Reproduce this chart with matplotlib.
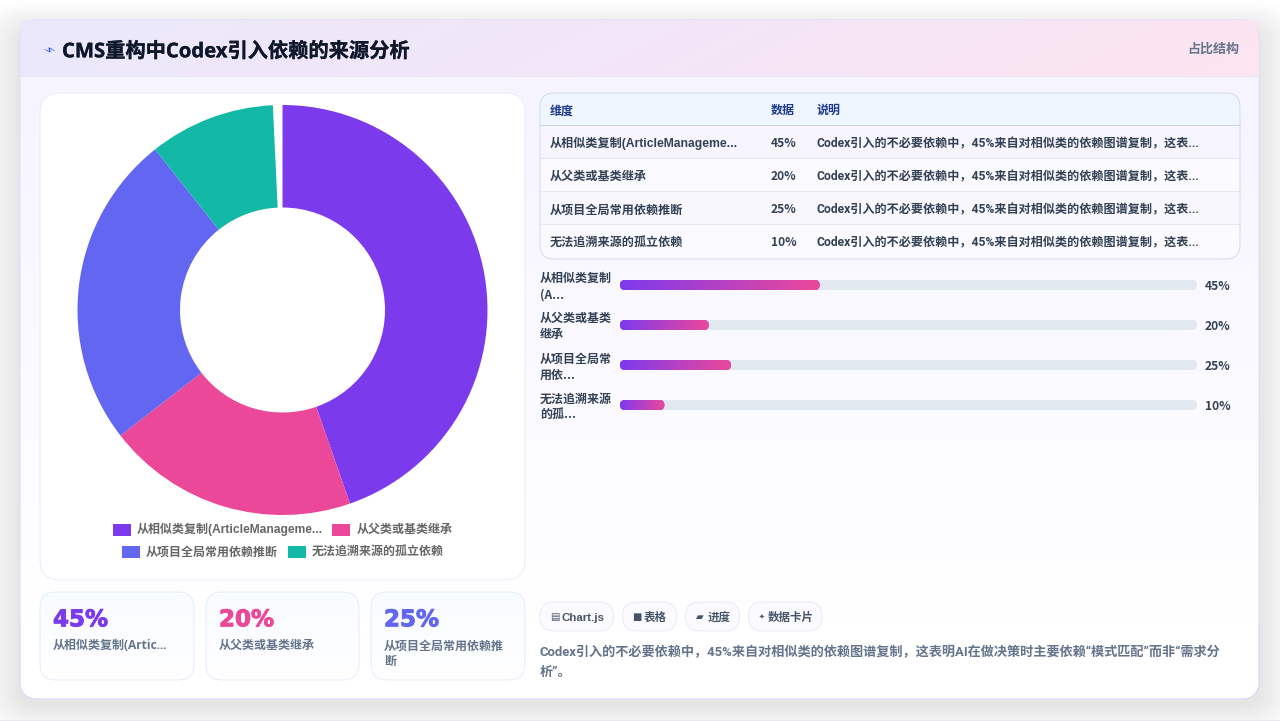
import matplotlib
matplotlib.use('Agg')
import matplotlib.patheffects as pe
import matplotlib.pyplot as plt
import numpy as np
from matplotlib.colors import LinearSegmentedColormap
from matplotlib.patches import FancyBboxPatch, Rectangle

CJK = ['Roboto', 'Noto Sans CJK SC', 'DejaVu Sans']
PLAIN_CJK = ['Noto Sans CJK SC', 'DejaVu Sans']
TITLE_FONT = ['Open Sans', 'Noto Sans CJK SC']
LEGEND_FONT = ['Liberation Sans', 'Noto Sans CJK SC']
plt.rcParams['font.family'] = CJK

# data
categories = ['从相似类复制(ArticleManageme...', '从父类或基类继承', '从项目全局常用依赖推断', '无法追溯来源的孤立依赖']
values = [45, 20, 25, 10]
colors = ['#7c3aed', '#ec4899', '#6366f1', '#14b8a6']
bar_labels = [['从相似类复制', '(A...'], ['从父类或基类', '继承'], ['从项目全局常', '用依...'], ['无法追溯来源', '的孤...']]
table_head = ['维度', '数据', '说明']
table_note = 'Codex引入的不必要依赖中，45%来自对相似类的依赖图谱复制，这表...'
card_labels = [['从相似类复制(Artic...'], ['从父类或基类继承'], ['从项目全局常用依赖推', '断']]
chips = ['Chart.js', '表格', '进度', '数据卡片']
chip_icons = ['▤', '■', '▰', '✦']
summary = ['Codex引入的不必要依赖中，45%来自对相似类的依赖图谱复制，这表明AI在做决策时主要依赖“模式匹配”而非“需求分', '析”。']

fig = plt.figure(figsize=(12.8, 7.21), dpi=100, facecolor='#ffffff')
ax = fig.add_axes([0, 0, 1, 1])
ax.axis('off')


def rbox(x0, y0, x1, y1, r, fc='none', ec='none', lw=0, alpha=None, z=2):
    p = FancyBboxPatch((x0, y0), x1 - x0, y1 - y0, boxstyle=f'round,pad=0,rounding_size={r}',
                       fc=fc, ec=ec, lw=lw, alpha=alpha, zorder=z)
    ax.add_patch(p)
    return p


def gradient(x0, y0, x1, y1, c0, c1, clip, horizontal=True, z=3):
    cmap = LinearSegmentedColormap.from_list('g', [c0, c1])
    g = np.linspace(0, 1, 256)
    g = g.reshape(1, -1) if horizontal else g.reshape(-1, 1)
    im = ax.imshow(g, extent=(x0, x1, y1, y0), cmap=cmap, aspect='auto', zorder=z, interpolation='bilinear')
    im.set_clip_path(clip)


def txt(x, y, s, size=12, color='#334155', weight='bold', ha='left', family=None, z=6, stroke=0, **kw):
    # size is css px, y is the visual middle of the line, so every line sits on the same baseline
    t = ax.text(x, y + size * 0.36, s, fontsize=size * 0.72, color=color, fontweight=weight, ha=ha, va='baseline',
                family=family or CJK, zorder=z, **kw)
    if stroke:
        t.set_path_effects([pe.withStroke(linewidth=stroke, foreground=color)])


# card shadow
for i in range(26):
    rbox(20 - i * 1.6, 32 - i * 1.2, 1259 + i * 1.6, 705 + i * 1.1, 18 + i, fc='#5b5f8c', alpha=0.0042, z=1)
ax.add_patch(Rectangle((0, 720), 1280, 1, fc='#e6e6ec', ec='none', zorder=1))

# card body
card = rbox(20, 20, 1259, 699, 18, fc='#ffffff', ec='#e0ddf5', lw=0.7, z=2)
gradient(20, 76, 1259, 620, '#f6f4ff', '#ffffff', card, horizontal=False)
rbox(20, 20, 1259, 699, 18, ec='#e0ddf5', lw=0.7, z=3)

# header
head_clip = rbox(20.5, 20.5, 1258.5, 90, 4, fc='none')
cmap = LinearSegmentedColormap.from_list('h', ['#ebe9fc', '#f3e6f8', '#fde4f0'])
yy, xx = np.mgrid[0:1:32j, 0:1:256j]
im = ax.imshow(xx * 0.92 + yy * 0.08, extent=(20, 1259, 76, 20), cmap=cmap, aspect='auto', zorder=3)
im.set_clip_path(head_clip)
ax.plot([20, 1259], [76, 76], color='#e5e3f6', lw=0.7, zorder=4)
ax.text(47, 50.5, '⚡', fontsize=9.4, color='#1d4ed8', family=['DejaVu Sans'], rotation=-65,
        ha='center', va='center', zorder=6)
txt(62, 50, 'CMS重构中Codex引入依赖的来源分析', size=20.25, color='#0f172a', family=TITLE_FONT, stroke=0.2)
txt(1239, 48, '占比结构', size=13, color='#64748b', ha='right')

# chart panel
rbox(40, 93, 525, 580, 20, fc='#ffffff', ec='#e8eaf6', lw=0.6, z=4)

# donut, drawn in its own axes
cx, cy, R = 282.5, 310, 205
pie_ax = fig.add_axes([(cx - R) / 1280, 1 - (cy + R) / 721, 2 * R / 1280, 2 * R / 721], zorder=5)
sweep = 357.3 / 360
pie_ax.pie([v * sweep / sum(values) for v in values], colors=colors, startangle=90, counterclock=False,
           normalize=False, radius=1, wedgeprops=dict(width=0.5, linewidth=0))
pie_ax.set_xlim(-1, 1)
pie_ax.set_ylim(-1, 1)
pie_ax.axis('off')

# legend
legend_pos = [(113, 524, 137), (332, 524, 357), (122, 546, 146), (288, 546, 312)]
for (bx, by, tx), name, c in zip(legend_pos, categories, colors):
    ax.add_patch(Rectangle((bx, by), 18, 12, fc=c, ec='none', zorder=6))
    txt(tx, by + 5, name, size=12, color='#666666', family=LEGEND_FONT)

# stat cards
card_x = [(40, 194), (206, 359), (371, 525)]
for (x0, x1), v, c, lines in zip(card_x, values, colors, card_labels):
    b = rbox(x0, 592, x1, 680, 16, fc='#ffffff', z=4)
    gradient(x0, 592, x1, 680, '#f8fbff', '#ffffff', b, horizontal=False, z=4)
    rbox(x0, 592, x1, 680, 16, ec='#e0eafa', lw=0.6, z=5)
    txt(x0 + 13, 618, f'{v}%', size=23, color=c, family=['DejaVu Sans'], stroke=0.7)
    for i, line in enumerate(lines):
        txt(x0 + 13, 645 + i * 16, line, size=12, color='#64748b', family=TITLE_FONT)

# table
tb = rbox(540, 93, 1240, 259, 14, fc='#fbfaff', ec='none', z=4)
row_y = [125, 158, 191, 224, 259]
head_rect = Rectangle((540, 93), 700, 32, fc='#eff6ff', ec='none', zorder=4)
ax.add_patch(head_rect)
head_rect.set_clip_path(tb)
row_fill = ['#f7f5fe', '#fbfaff', '#f8f7fe', '#fbfaff']
for i in range(4):
    r = Rectangle((540, row_y[i]), 700, row_y[i + 1] - row_y[i], fc=row_fill[i], ec='none', zorder=4)
    ax.add_patch(r)
    r.set_clip_path(tb)
for i, y in enumerate(row_y[:-1]):
    ax.plot([540, 1240], [y, y], color='#cbd5e8' if i == 0 else '#e2e8f0', lw=0.7, zorder=5)
rbox(540, 93, 1240, 259, 14, ec='#ccd6e8', lw=0.6, z=5)
col_x = [550, 771, 816.5]
for x, h in zip(col_x, table_head):
    txt(x, 110, h, color='#1e3a8a')
for i, (name, v) in enumerate(zip(categories, values)):
    y = 143 + i * 33
    txt(col_x[0], y, name, size=12.1, family=LEGEND_FONT)
    txt(col_x[1], y, f'{v}%', family=PLAIN_CJK)
    txt(col_x[2], y, table_note, size=12.1)

# progress bars (track holds 130 units)
track_x0, track_x1 = 620, 1197
per_unit = (track_x1 - track_x0) / 130
for i, (lines, v) in enumerate(zip(bar_labels, values)):
    y0 = 280 + i * 40
    rbox(track_x0, y0, track_x1, y0 + 10, 5, fc='#e2e8f0', z=4)
    x1 = track_x0 + v * per_unit
    b = rbox(track_x0, y0, x1, y0 + 10, 5, fc='#7c3aed', z=5)
    gradient(track_x0, y0, x1, y0 + 10, '#7c3aed', '#ec4899', b, z=5)
    txt(540, y0 - 2, lines[0], family=PLAIN_CJK)
    txt(540, y0 + 14, lines[1], family=PLAIN_CJK)
    txt(1205, y0 + 6, f'{v}%', family=PLAIN_CJK)

# chips
chip_x = [(540, 613.5), (622.5, 676.5), (685.5, 739.5), (748.5, 822)]
chip_text = [22, 21.5, 22, 19.5]
chip_icon_size = [10, 10, 10, 7]
for (x0, x1), name, icon, off, isz in zip(chip_x, chips, chip_icons, chip_text, chip_icon_size):
    rbox(x0, 602, x1, 631, 14, fc='#fbfbff', ec='#e5e8f2', lw=0.6, z=4)
    ax.text(x0 + 10, 617, icon, fontsize=isz * 0.72, color='#475569', family=['DejaVu Sans'], va='center', zorder=6)
    txt(x0 + off, 617, name, size=11.5, color='#475569', family=LEGEND_FONT)

# summary text
for i, line in enumerate(summary):
    txt(540, 651 + i * 20.5, line, size=13.15, color='#64748b')

ax.set_xlim(0, 1280)
ax.set_ylim(721, 0)
fig.savefig('out.png', dpi=100, facecolor=fig.get_facecolor())
